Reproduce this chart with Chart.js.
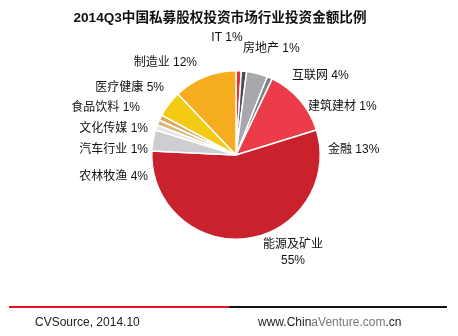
<!DOCTYPE html>
<html>
<head>
<meta charset="utf-8">
<script src="https://cdn.jsdelivr.net/npm/chart.js@4"></script>
<style>
  html, body { margin: 0; padding: 0; background: #fff; }
  #wrap { position: relative; width: 458px; height: 336px; overflow: hidden; font-family: Arial, "Liberation Sans", "Noto Sans CJK SC", sans-serif; }
  #title { position: absolute; left: 0; top: 6px; width: 440px; text-align: center; font-size: 13.6px; font-weight: bold; color: #111; font-family: Arial, "Liberation Sans", "Noto Sans CJK SC", sans-serif; }
  #pie { position: absolute; left: 0; top: 0; }
  #rule-red { position: absolute; left: 9px; top: 306px; width: 220px; height: 2px; background: #e8141e; }
  #rule-black { position: absolute; left: 229px; top: 306px; width: 218px; height: 2px; background: #111; }
  .foot { position: absolute; top: 315px; font-size: 12px; color: #222; }
  .grey { color: #777; }
</style>
</head>
<body>
<div id="wrap">
  <canvas id="pie" width="458" height="336"></canvas>
  <div id="title">2014Q3中国私募股权投资市场行业投资金额比例</div>
  <div id="rule-red"></div>
  <div id="rule-black"></div>
  <div class="foot" style="left:35px;">CVSource, 2014.10</div>
  <div class="foot" style="left:258px;">www.Chin<span class="grey">aVenture.com</span>.cn</div>
</div>
<script>
// industry shares (%), clockwise from 12 o'clock
const industries = ['IT', '房地产', '互联网', '建筑建材', '金融', '能源及矿业', '农林牧渔', '汽车行业', '文化传媒', '食品饮料', '医疗健康', '制造业'];
const shares = [1, 1, 4, 1, 13, 55, 4, 1, 1, 1, 5, 12];

const colors = ['#e2323c', '#4b4b4e', '#a7a8ac', '#808186', '#ec3c4a', '#c9222c', '#cdced2', '#e4e4e4', '#ddb679', '#d9a95c', '#f4cb14', '#f5ad1f'];

// label anchor relative to pie centre: [dx, dy, align]
const labelPos = [
  [-9, -117, 'center'],
  [7, -106, 'left'],
  [56, -79, 'left'],
  [72, -48, 'left'],
  [92, -5, 'left'],
  [57, 98, 'center'],
  [-88, 22, 'right'],
  [-88, -5, 'right'],
  [-88, -26, 'right'],
  [-96, -47, 'right'],
  [-72, -67, 'right'],
  [-39, -92, 'right']
];

const pieLabels = {
  id: 'pieLabels',
  afterDatasetsDraw(chart) {
    const ctx = chart.ctx;
    const arcs = chart.getDatasetMeta(0).data;
    ctx.save();
    ctx.fillStyle = '#111';
    ctx.textBaseline = 'middle';
    ctx.font = '12px Arial, "Liberation Sans", "Noto Sans CJK SC", sans-serif';
    arcs.forEach((arc, i) => {
      const [dx, dy, align] = labelPos[i];
      const x = arc.x + dx, y = arc.y + dy;
      ctx.textAlign = align;
      const name = chart.data.labels[i];
      const pct = chart.data.datasets[0].data[i] + '%';
      if (name === '能源及矿业') {
        ctx.fillText(name, x, y - 8);
        ctx.fillText(pct, x, y + 8);
      } else {
        ctx.fillText(name + ' ' + pct, x, y);
      }
    });
    ctx.restore();
  }
};

new Chart(document.getElementById('pie'), {
  type: 'pie',
  data: {
    labels: industries,
    datasets: [{
      data: shares,
      backgroundColor: colors,
      borderColor: '#ffffff',
      borderWidth: 1.5
    }]
  },
  options: {
    responsive: false,
    animation: false,
    layout: { padding: { top: 70, bottom: 96, left: 120, right: 106 } },
    plugins: {
      legend: { display: false },
      tooltip: { enabled: false }
    }
  },
  plugins: [pieLabels]
});
</script>
</body>
</html>
